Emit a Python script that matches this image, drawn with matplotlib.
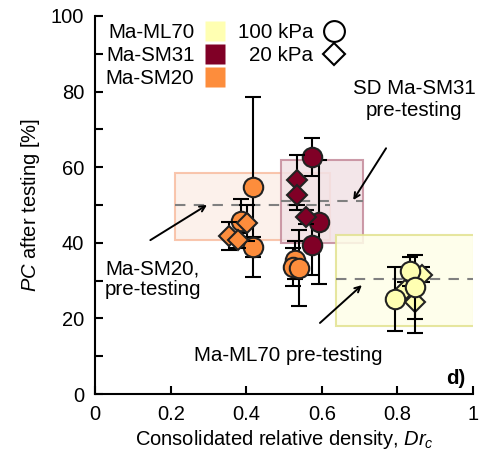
import numpy as np
import matplotlib
matplotlib.use("Agg")
import matplotlib.pyplot as plt
from matplotlib.lines import Line2D
from matplotlib.patches import Rectangle

plt.rcParams['font.family'] = ['Liberation Sans', 'DejaVu Sans']
plt.rcParams['mathtext.fontset'] = 'custom'
plt.rcParams['mathtext.rm'] = 'Liberation Sans'
plt.rcParams['mathtext.it'] = 'Liberation Sans:italic'

# colours per material
c_ml70 = "#ffffb2"
c_sm31 = "#800026"
c_sm20 = "#fd8d3c"

# Ma-SM20
sm20_c_x = [0.418, 0.418, 0.386, 0.529, 0.524, 0.540]
sm20_c_y = [54.8, 38.9, 45.8, 35.4, 33.6, 33.3]
sm20_c_e = [23.8, 2.6, 5.8, 5.0, 5.0, 10.0]
sm20_d_x = [0.402, 0.355, 0.378]
sm20_d_y = [45.2, 41.8, 40.7]
sm20_d_e = [4.8, 3.8, 2.0]

# Ma-SM31
sm31_c_x = [0.574, 0.593, 0.574]
sm31_c_y = [62.7, 45.5, 39.4]
sm31_c_e = [5.0, 16.4, 7.9]
sm31_d_x = [0.534, 0.534, 0.558]
sm31_d_y = [56.6, 52.6, 46.8]
sm31_d_e = [6.6, 4.0, 1.9]

# Ma-ML70
ml70_c_x = [0.794, 0.833, 0.847]
ml70_c_y = [25.1, 32.5, 28.3]
ml70_c_e = [8.4, 3.8, 8.5]
ml70_d_x = [0.864, 0.847, 0.820]
ml70_d_y = [31.5, 24.3, 27.5]
ml70_d_e = [2.0, 8.2, 2.0]

# pre-testing SD boxes: (x0, x1, y0, y1, mean)
box_sm20 = (0.212, 0.622, 40.7, 58.5, 50.0)
box_sm31 = (0.492, 0.709, 40.0, 61.9, 51.0)
box_ml70 = (0.638, 1.003, 18.0, 42.0, 30.4)

fig = plt.figure(figsize=(5.01, 4.55), dpi=100)
ax = fig.add_axes([0.19, 0.134, 0.754, 0.831])

box_styles = [(box_sm20, "#fcefe8", "#f8bca0"),
              (box_sm31, "#f2e2e6", "#c48a9a"),
              (box_ml70, "#fefee8", "#e2e290")]
for box, face, edge in box_styles:
    x0, x1, y0, y1, m = box
    ax.add_patch(Rectangle((x0, y0), x1 - x0, y1 - y0, facecolor=face,
                           edgecolor=edge, lw=1.5, alpha=0.85, zorder=1))
    ax.plot([x0, x1], [m, m], ls=(0, (5, 4)), color="#808080", lw=1.5, zorder=1.5)

def group(xc, yc, ec, xd, yd, ed, col, z_c, z_d):
    ax.errorbar(xc, yc, yerr=ec, fmt='none', ecolor='black', elinewidth=1.5,
                capsize=5.5, capthick=1.5, zorder=z_c - 0.1)
    ax.errorbar(xd, yd, yerr=ed, fmt='none', ecolor='black', elinewidth=1.5,
                capsize=5.5, capthick=1.5, zorder=z_d - 0.1)
    ax.plot(xc, yc, 'o', ms=14, mfc=col, mec='#222222', mew=1.5, ls='none', zorder=z_c)
    ax.plot(xd, yd, 'D', ms=10, mfc=col, mec='#222222', mew=1.5, ls='none', zorder=z_d)

group(sm20_c_x, sm20_c_y, sm20_c_e, sm20_d_x, sm20_d_y, sm20_d_e, c_sm20, 3, 4)
group(sm31_c_x, sm31_c_y, sm31_c_e, sm31_d_x, sm31_d_y, sm31_d_e, c_sm31, 3, 4)
group(ml70_c_x, ml70_c_y, ml70_c_e, ml70_d_x, ml70_d_y, ml70_d_e, c_ml70, 4, 3)

fs = 14.8
ap = dict(arrowstyle='->', color='black', lw=1.4, shrinkA=0, shrinkB=0)
ax.annotate("", xy=(0.683, 51.3), xytext=(0.77, 65), arrowprops=ap)
ax.text(0.845, 78, "SD Ma-SM31\npre-testing", ha='center', va='center',
        fontsize=fs, linespacing=1.2)
ax.annotate("", xy=(0.296, 50.0), xytext=(0.146, 40.7), arrowprops=ap)
ax.text(0.026, 30.4, "Ma-SM20,\npre-testing", ha='left', va='center',
        fontsize=fs, linespacing=1.1)
ax.annotate("", xy=(0.706, 28.8), xytext=(0.595, 18.8), arrowprops=ap)
ax.text(0.51, 10.3, "Ma-ML70 pre-testing", ha='center', va='center', fontsize=fs)
ax.text(0.955, 4.2, "d)", ha='center', va='center', fontsize=fs, fontweight='bold')

ax.set_xlim(0, 1)
ax.set_ylim(0, 100)
ax.set_xticks([0, 0.2, 0.4, 0.6, 0.8, 1.0])
ax.set_xticklabels(["0", "0.2", "0.4", "0.6", "0.8", "1"])
ax.set_yticks([0, 20, 40, 60, 80, 100])
ax.set_yticks(np.arange(10, 100, 20), minor=True)
ax.tick_params(direction='in', length=6, width=1.5, labelsize=14.5, pad=8)
ax.tick_params(which='minor', direction='in', length=6, width=1.5)
for s in ['top', 'right']:
    ax.spines[s].set_visible(False)
for s in ['left', 'bottom']:
    ax.spines[s].set_linewidth(1.5)

ax.set_xlabel("Consolidated relative density, $Dr_c$", fontsize=14.5, labelpad=3)
ax.set_ylabel("$PC$ after testing [%]", fontsize=14.5, labelpad=6)

handles = [
    Line2D([], [], marker='s', ls='none', ms=14, mfc=c_ml70, mec='none'),
    Line2D([], [], marker='s', ls='none', ms=14, mfc=c_sm31, mec='none'),
    Line2D([], [], marker='s', ls='none', ms=14, mfc=c_sm20, mec='none'),
    Line2D([], [], marker='o', ls='none', ms=15, mfc='white', mec='black', mew=1.5),
    Line2D([], [], marker='D', ls='none', ms=11, mfc='white', mec='black', mew=1.5),
    Line2D([], [], ls='none'),
]
labels = ["Ma-ML70", "Ma-SM31", "Ma-SM20", "100 kPa", "20 kPa", ""]
ax.legend(handles, labels, ncol=2, loc='upper left', bbox_to_anchor=(-0.01, 1.02),
          frameon=False, markerfirst=False, fontsize=fs, handlelength=1.0,
          handletextpad=0.5, columnspacing=0.6, labelspacing=0.2, borderaxespad=0.3)

fig.savefig("out.png", dpi=100)
